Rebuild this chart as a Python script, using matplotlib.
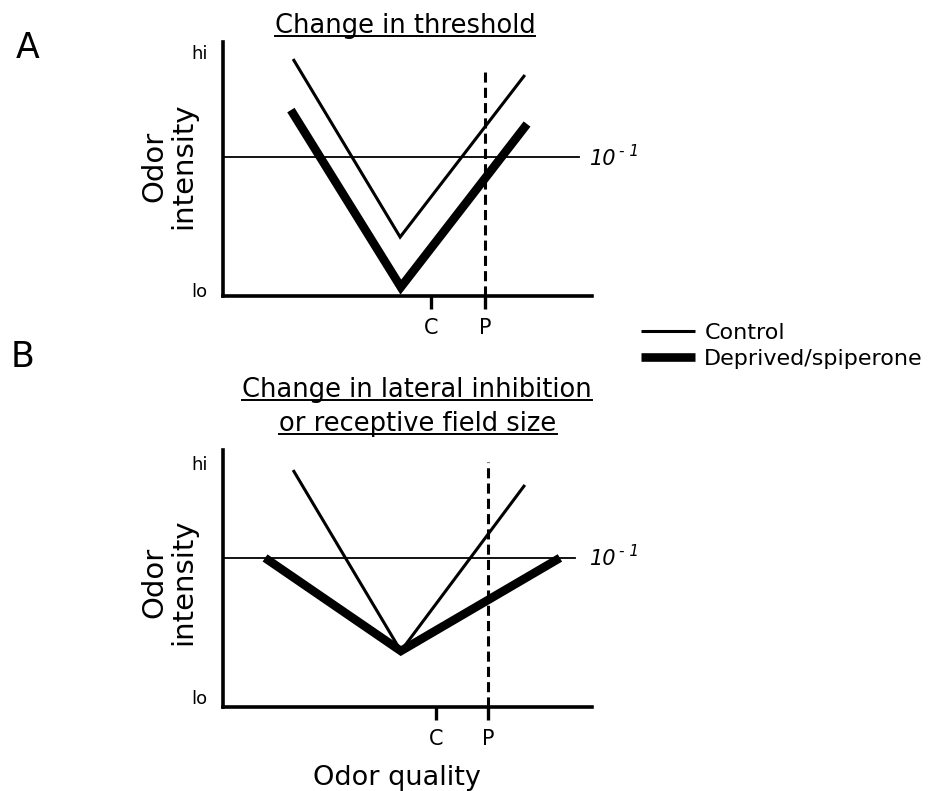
import matplotlib
matplotlib.use("Agg")
import matplotlib.pyplot as plt
from matplotlib.lines import Line2D

# axes units 0..100
a_ctrl_x = [19.0, 48.0, 81.8]
a_ctrl_y = [93.3, 23.2, 87.0]
a_dep_x = [18.4, 48.2, 82.4]
a_dep_y = [73.2, 3.5, 67.7]
a_thresh = 54.7
a_thresh_end = 96.5
a_ticks = [56.4, 71.0]
a_p_top = 89.8

b_ctrl_x = [19.0, 48.2, 81.8]
b_ctrl_y = [92.2, 21.8, 86.4]
b_dep_x = [11.4, 48.2, 91.3]
b_dep_y = [58.0, 21.8, 58.0]
b_thresh = 58.0
b_thresh_end = 95.4
b_ticks = [57.7, 71.8]
b_p_top = 95.3

tick_labels = ['C', 'P']
a_hilo = [96.0, 2.4]
b_hilo = [95.0, 4.0]
hilo_labels = ['hi', 'lo']

W, H = 930, 791
fig = plt.figure(figsize=(W / 100, H / 100), dpi=100)
fig.patch.set_facecolor('white')


def fx(px):
    return px / W


def fy(py):
    return 1 - py / H


axA = fig.add_axes([fx(223), fy(296), 369 / W, 254 / H])
axB = fig.add_axes([fx(223), fy(707), 369 / W, 257 / H])


def panel(ax, cx, cy, dx, dy, thr, thr_end, ticks, p_top, hilo):
    ax.plot(cx, cy, color='black', lw=2.2, solid_capstyle='butt', solid_joinstyle='miter')
    ax.plot(dx, dy, color='black', lw=6.2, solid_capstyle='butt', solid_joinstyle='miter')
    ax.plot([0, thr_end], [thr, thr], color='black', lw=1.3)
    ax.plot([ticks[1], ticks[1]], [0, p_top], color='black', lw=2.2,
            dashes=(3.3, 1.7))
    ax.set_xlim(0, 100)
    ax.set_ylim(0, 100)
    for s in ['top', 'right']:
        ax.spines[s].set_visible(False)
    for s in ['left', 'bottom']:
        ax.spines[s].set_linewidth(2.6)
    ax.set_xticks(ticks)
    ax.set_xticklabels(tick_labels, fontsize=15)
    ax.tick_params(axis='x', length=9, width=2.4, direction='out', pad=7)
    ax.set_yticks(hilo)
    ax.set_yticklabels(hilo_labels, fontsize=13)
    ax.tick_params(axis='y', length=0, pad=11)


panel(axA, a_ctrl_x, a_ctrl_y, a_dep_x, a_dep_y, a_thresh, a_thresh_end, a_ticks, a_p_top, a_hilo)
panel(axB, b_ctrl_x, b_ctrl_y, b_dep_x, b_dep_y, b_thresh, b_thresh_end, b_ticks, b_p_top, b_hilo)

# panel letters
fig.text(fx(28), fy(48), 'A', fontsize=25, ha='center', va='center')
fig.text(fx(23), fy(357), 'B', fontsize=25, ha='center', va='center')

# y labels
for yc in [166, 582]:
    fig.text(fx(169), fy(yc), 'Odor\nintensity', rotation=90, fontsize=21,
             ha='center', va='center', multialignment='center', linespacing=1.05)

# x label
fig.text(fx(397), fy(778), 'Odor quality', fontsize=19.5, ha='center', va='center')

# 10^-1 labels
for yc in [158, 558]:
    fig.text(fx(590), fy(yc + 1), '10', fontsize=15, style='italic', ha='left', va='center')
    fig.text(fx(619), fy(yc - 6), '- 1', fontsize=11, style='italic', ha='left', va='center')

# underlined titles
titles = [
    ('Change in threshold', 405, 33),
    ('Change in lateral inhibition', 417, 397),
    ('or receptive field size', 418, 431),
]
title_objs = []
for t, x, y in titles:
    title_objs.append(fig.text(fx(x), fy(y), t, fontsize=18.5, ha='center', va='baseline'))

fig.canvas.draw()
r = fig.canvas.get_renderer()
for obj, (t, x, y) in zip(title_objs, titles):
    bb = obj.get_window_extent(r)
    yy = fy(y + 3)
    fig.add_artist(Line2D([bb.x0 / W, bb.x1 / W], [yy, yy], color='black', lw=1.4,
                          transform=fig.transFigure))

# legend
handles = [Line2D([], [], color='black', lw=2.2, solid_capstyle='butt'),
           Line2D([], [], color='black', lw=6.2, solid_capstyle='butt')]
fig.legend(handles, ['Control', 'Deprived/spiperone'], loc='center left',
           bbox_to_anchor=(fx(641), fy(346)), frameon=False, fontsize=16,
           handlelength=2.45, handletextpad=0.4, labelspacing=0.25,
           borderpad=0, borderaxespad=0)

fig.savefig('out.png', dpi=100, facecolor='white')
